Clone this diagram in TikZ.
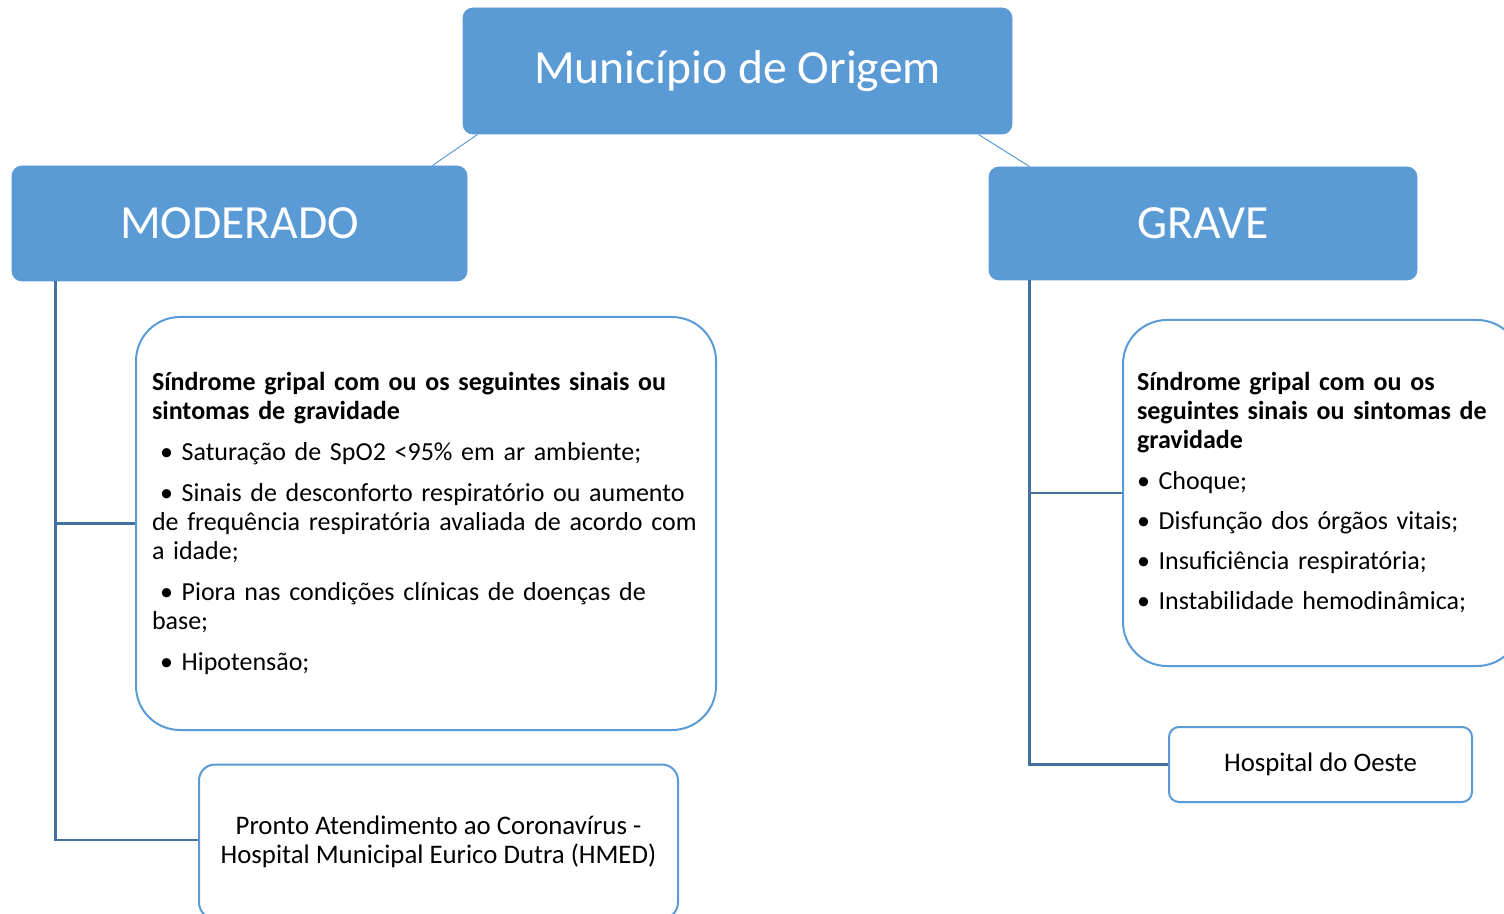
\documentclass[tikz,border=0pt]{standalone}
\usepackage{fontspec}
\setmainfont{Carlito}
\usepackage{tikz}
\usetikzlibrary{shapes, positioning}
\definecolor{boxblue}{HTML}{5B9BD5}
\definecolor{lineblue}{HTML}{41719C}
\tikzstyle{level}=[shape=rectangle,rounded corners=5pt,fill=boxblue,draw=boxblue,text=white,font=\fontsize{23.8}{28}\selectfont]
\tikzstyle{detail}=[shape=rectangle,rounded corners=22pt,draw=boxblue,line width=1pt,fill=white,font=\fontsize{13}{14.5}\selectfont]
\tikzstyle{place}=[shape=rectangle,rounded corners=6pt,draw=boxblue,line width=1pt,fill=white,align=center,font=\fontsize{13.4}{14.5}\selectfont]
\tikzstyle{topedge}=[draw=boxblue,line width=0.5pt]
\tikzstyle{treeline}=[draw=lineblue,line width=1.2pt]

\begin{document}
\begin{tikzpicture}[x=0.5pt,y=-0.5pt]
\useasboundingbox (0,0) rectangle (1504,914);
%\draw[step=100,gray,very thin] (0,0) grid (1504,914);
\node[level,minimum width=274.5pt,minimum height=63pt] (top) at (737.5,71){Município de Origem};
\node[level,minimum width=227.5pt,minimum height=57.5pt] (mod) at (239.5,223.5){MODERADO};
\node[level,minimum width=214pt,minimum height=56.5pt] (grave) at (1203,223.5){GRAVE};

\draw[topedge] ([xshift=7.5pt]top.south west) -- ([xshift=-17.5pt]mod.north east);
\draw[topedge] ([xshift=-17pt]top.south east) -- ([xshift=20.5pt]grave.north west);

% moderado
\node[detail,text width=274pt,inner xsep=8pt,minimum height=206.5pt,align=left] (sgm) at (426,523.5){%
\textbf{Síndrome gripal com ou os seguintes sinais ou}\\
\textbf{sintomas de gravidade}\\[6pt]
\hspace*{4pt}• Saturação de SpO2 <95\% em ar ambiente;\\[6pt]
\hspace*{4pt}• Sinais de desconforto respiratório ou aumento\\
de frequência respiratória avaliada de acordo com\\
a idade;\\[6pt]
\hspace*{4pt}• Piora nas condições clínicas de doenças de\\
base;\\[6pt]
\hspace*{4pt}• Hipotensão;};
\node[place,rounded corners=8pt,minimum width=239.5pt,minimum height=77pt] (pa) at (438.5,841.5){Pronto Atendimento ao Coronavírus -\\Hospital Municipal Eurico Dutra (HMED)};
\draw[treeline] ([xshift=22pt]mod.south west) |- (sgm.west);
\draw[treeline] ([xshift=22pt]mod.south west) |- ([yshift=0.75pt]pa.west);

% grave
\node[detail,text width=185pt,inner xsep=7pt,minimum height=173pt,align=left] (sgg) at (1322,493){%
\textbf{Síndrome gripal com ou os}\\
\textbf{seguintes sinais ou sintomas de}\\
\textbf{gravidade}\\[6pt]
• Choque;\\[5.5pt]
• Disfunção dos órgãos vitais;\\[5.5pt]
• Insuficiência respiratória;\\[5.5pt]
• Instabilidade hemodinâmica;};
\node[place,rounded corners=5pt,minimum width=151.5pt,minimum height=37.5pt] (ho) at (1320.5,764.5){Hospital do Oeste};
\draw[treeline] ([xshift=20.5pt]grave.south west) |- (sgg.west);
\draw[treeline] ([xshift=20.5pt]grave.south west) |- (ho.west);

\end{tikzpicture}
\end{document}
